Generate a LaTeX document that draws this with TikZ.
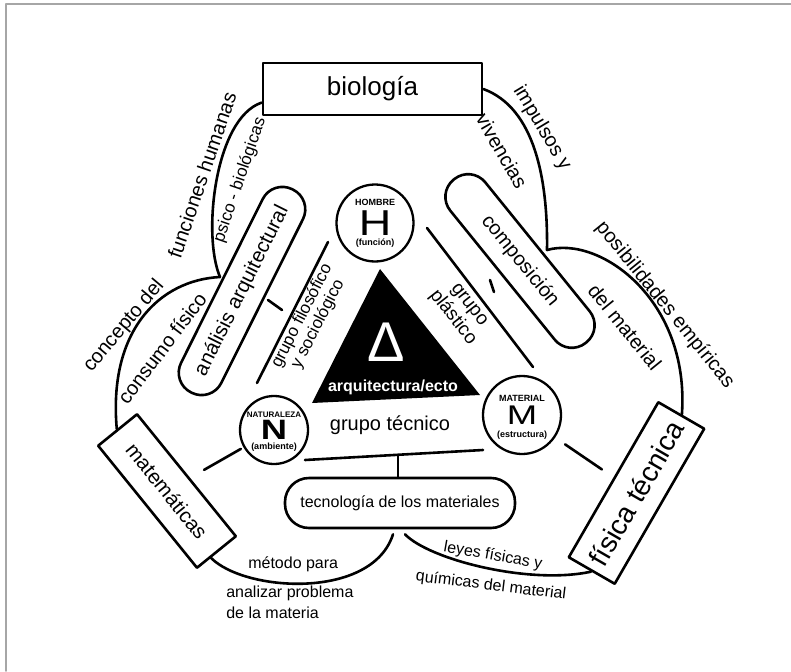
\documentclass[tikz,border=0pt]{standalone}
\usepackage{fontspec}
\setmainfont{Liberation Sans}
\usetikzlibrary{calc}
\tikzset{
  hand/.style={line width=2.6pt, line cap=round, line join=round},
  plate/.style={draw, hand, rectangle, inner sep=0pt},
  pill/.style={draw, hand, rectangle, rounded corners=22pt, inner sep=0pt, minimum height=45pt},
  disc/.style={draw, circle, line width=2.3pt, inner sep=0pt},
  ctag/.style={font=\bfseries\fontsize{9}{10}\selectfont, inner sep=0pt},
  ltext/.style={font=\fontsize{20}{22}\selectfont, inner sep=0pt},
  stext/.style={font=\fontsize{16}{18}\selectfont, inner sep=0pt}
}
\begin{document}
\begin{tikzpicture}[x=1pt, y=-1pt, hand]
	\useasboundingbox (0,0) rectangle (791,671);
	\draw[black!35, line width=1.5pt] (6,671) -- (6,4) -- (791,4);
	% outer boxes
	\node[plate, minimum width=219pt, minimum height=52pt, font=\fontsize{26}{28}\selectfont] (bio) at (372.5,89) {biología};
	\node[plate, minimum width=157pt, minimum height=50pt, rotate=-51, font=\fontsize{20.5}{22}\selectfont] (mat) at (167,491) {matemáticas};
	\node[plate, minimum width=179pt, minimum height=53pt, rotate=60, font=\fontsize{28}{30}\selectfont] (fis) at (636.5,493) {física técnica};
	% pills
	\node[pill, minimum width=227pt, rotate=63.5, font=\fontsize{20.5}{22}\selectfont] (ana) at (242,291) {análisis arquitectural};
	\node[pill, minimum width=210pt, rotate=-51, font=\fontsize{20}{22}\selectfont] (com) at (520,261) {composición};
	\node[pill, minimum width=230pt, minimum height=50pt, rounded corners=24pt, font=\fontsize{16}{18}\selectfont] (tec) at (400,503) {tecnología de los materiales};
	% central triangle
	\fill (380,269) -- (480,395) -- (312,403) -- cycle;
	\node[font=\fontsize{56}{56}\selectfont, text=white, inner sep=0pt] (delta) at (386,342) {Δ};
	\node[font=\bfseries\fontsize{16}{18}\selectfont, text=white, inner sep=0pt] (arq) at (393,387) {arquitectura/ecto};
	% circles
	\node[disc, minimum size=77pt] (H) at (375,223) {};
	\node[ctag, yshift=21pt] at (H) {HOMBRE};
	\node[font=\fontsize{36}{36}\selectfont, xscale=1.25, inner sep=0pt] at (H) {H};
	\node[ctag, yshift=-20pt] at (H) {(función)};
	\node[disc, minimum size=68pt] (N) at (274,430) {};
	\node[ctag, font=\bfseries\fontsize{8}{9}\selectfont, yshift=15pt] at (N) {NATURALEZA};
	\node[font=\bfseries\fontsize{28}{28}\selectfont, xscale=1.3, inner sep=0pt] at (N) {N};
	\node[ctag, yshift=-17pt] at (N) {(ambiente)};
	\node[disc, minimum size=78pt] (M) at (522,415) {};
	\node[ctag, yshift=17pt] at (M) {MATERIAL};
	\node[font=\fontsize{27}{27}\selectfont, xscale=1.35, inner sep=0pt] at (M) {M};
	\node[ctag, yshift=-20pt] at (M) {(estructura)};
	% group lines and ticks
	\draw (257,383) -- (328,242);
	\draw (427,228) -- (533,367);
	\draw (305,460) -- (483,450);
	\draw (268,300) -- (282,310);
	\draw (490,280) -- (494,292);
	\draw (398,456) -- (tec.north -| 398,0);
	\node[font=\fontsize{17}{18}\selectfont, align=center, rotate=63, inner sep=0pt] (fil) at (310,320) {grupo filosófico\\y sociológico};
	\node[font=\fontsize{19}{21}\selectfont, align=center, rotate=-52, inner sep=0pt] (pla) at (460,312) {grupo\\plástico};
	\node[ltext] (tecg) at (390,425) {grupo técnico};
	\draw[shorten <=3pt, shorten >=16pt] (N) -- (mat);
	\draw[shorten <=12pt, shorten >=14pt] (M) -- (fis);
	% outer arcs
	\coordinate (cuspL) at (220,277);
	\coordinate (cuspR) at (547,250);
	\draw (bio.187) .. controls (215,118) and (202,235) .. (cuspL);
	\draw (cuspL) .. controls (160,280) and (108,330) .. (mat.west);
	\draw (bio.east) .. controls (535,108) and (548,180) .. (cuspR);
	\draw (cuspR) .. controls (600,235) and (690,300) .. (fis.east);
	\draw ($(mat.east)!0.3!(mat.south east)$) .. controls (245,592) and (372,600) .. ($(tec.south)+(-7,5)$);
	\draw ($(tec.south)+(5,5)$) .. controls (430,560) and (530,585) .. (fis.west);
	% outer labels
	\node[ltext, rotate=71] at (202,175) {funciones humanas};
	\node[font=\fontsize{17}{19}\selectfont, inner sep=0pt, rotate=71] at (240,180) {psico - biológicas};
	\node[ltext, rotate=50] at (124,326) {concepto del};
	\node[ltext, rotate=53] at (162,348) {consumo físico};
	\node[ltext, rotate=-59] at (542,128) {impulsos y};
	\node[ltext, rotate=-60] at (502,151) {vivencias};
	\node[ltext, rotate=-51] at (665,305) {posibilidades empíricas};
	\node[ltext, rotate=-51] at (625,327) {del material};
	\node[stext, anchor=west] at (247,564) {método para};
	\node[stext, anchor=west] at (225,593) {analizar problema};
	\node[stext, anchor=west] at (225,613) {de la materia};
	\node[stext, rotate=-10] at (493,556) {leyes físicas y};
	\node[stext, rotate=-7] at (491,586) {químicas del material};
\end{tikzpicture}
\end{document}
